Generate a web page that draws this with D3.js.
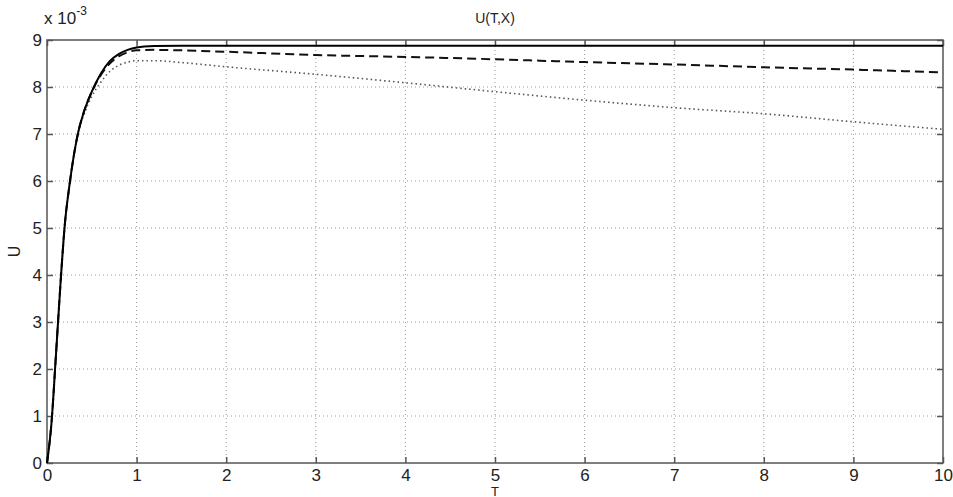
<!DOCTYPE html>
<html><head><meta charset="utf-8">
<script src="https://cdn.jsdelivr.net/npm/d3@7"></script>
<style>body{margin:0;background:#fff}svg{display:block}text{font-family:"Liberation Sans",Arial,sans-serif}</style>
</head><body><div id="c"></div>
<script>
const tValues = [0,0.05,0.1,0.15,0.2,0.25,0.3,0.35,0.4,0.5,0.6,0.7,0.8,0.9,1.0,1.2,1.5,2,3,4,5,6,7,8,9,10];
const solidU  = [0,0.85,2.3,3.8,5.1,5.9,6.55,7.05,7.4,7.9,8.28,8.55,8.7,8.79,8.84,8.87,8.88,8.88,8.88,8.88,8.88,8.88,8.88,8.88,8.88,8.88];
const dashedU = [0,0.85,2.3,3.8,5.1,5.9,6.55,7.05,7.4,7.9,8.25,8.5,8.65,8.74,8.78,8.79,8.78,8.75,8.68,8.64,8.59,8.53,8.48,8.42,8.37,8.31];
const dottedU = [0,0.85,2.3,3.8,5.1,5.9,6.55,7.05,7.35,7.8,8.1,8.33,8.46,8.53,8.56,8.56,8.52,8.43,8.27,8.09,7.9,7.72,7.56,7.43,7.26,7.1];
const xTicks = [0,1,2,3,4,5,6,7,8,9,10];
const yTicks = [0,1,2,3,4,5,6,7,8,9];

const W=953,H=497, m={l:47,r:10,t:40,b:34};
const svg=d3.select("#c").append("svg").attr("width",W).attr("height",H);
const x=d3.scaleLinear().domain([0,10]).range([m.l,W-m.r]);
const y=d3.scaleLinear().domain([0,9]).range([H-m.b,m.t]);
const axisCol="#555";

// grid
const g=svg.append("g");
g.selectAll(".gx").data(xTicks.slice(1,-1)).join("line")
 .attr("x1",d=>x(d)).attr("x2",d=>x(d)).attr("y1",y(0)).attr("y2",y(9))
 .attr("stroke","#999").attr("stroke-width",1).attr("stroke-dasharray","1,3");
g.selectAll(".gy").data(yTicks.slice(1,-1)).join("line")
 .attr("y1",d=>y(d)).attr("y2",d=>y(d)).attr("x1",x(0)).attr("x2",x(10))
 .attr("stroke","#999").attr("stroke-width",1).attr("stroke-dasharray","1,3");

// axes
const ax=d3.axisBottom(x).tickValues(xTicks).tickSize(-6).tickPadding(6).tickFormat(d3.format("d"));
const ay=d3.axisLeft(y).tickValues(yTicks).tickSize(-6).tickPadding(5).tickFormat(d3.format("d"));
const axt=d3.axisTop(x).tickValues(xTicks).tickSize(-6).tickFormat("");
const ayr=d3.axisRight(y).tickValues(yTicks).tickSize(-6).tickFormat("");
function style(sel){sel.select(".domain").attr("stroke",axisCol).attr("stroke-width",1.5);sel.selectAll(".tick line").attr("stroke",axisCol).attr("stroke-width",1.5);sel.selectAll("text").attr("font-size",17).attr("fill","#222");}
svg.append("g").attr("transform",`translate(0,${y(0)})`).call(ax).call(style);
svg.append("g").attr("transform",`translate(${x(0)},0)`).call(ay).call(style);
svg.append("g").attr("transform",`translate(0,${y(9)})`).call(axt).call(style);
svg.append("g").attr("transform",`translate(${x(10)},0)`).call(ayr).call(style);
svg.selectAll(".domain").attr("d",null);
svg.append("rect").attr("x",x(0)).attr("y",y(9)).attr("width",x(10)-x(0)).attr("height",y(0)-y(9))
 .attr("fill","none").attr("stroke",axisCol).attr("stroke-width",1.5);

// lines
const line=arr=>d3.line().x((d,i)=>x(tValues[i])).y(d=>y(d)).curve(d3.curveMonotoneX)(arr);
svg.append("path").attr("d",line(dottedU)).attr("fill","none").attr("stroke","#555").attr("stroke-width",1.6).attr("stroke-dasharray","1.5,3");
svg.append("path").attr("d",line(dashedU)).attr("fill","none").attr("stroke","#111").attr("stroke-width",2).attr("stroke-dasharray","9,5");
svg.append("path").attr("d",line(solidU)).attr("fill","none").attr("stroke","#000").attr("stroke-width",2);

// labels
svg.append("text").attr("x",(x(0)+x(10))/2).attr("y",23).attr("text-anchor","middle").attr("font-size",14).attr("fill","#222").text("U(T,X)");
const e=svg.append("text").attr("x",x(0)-3).attr("y",24).attr("font-size",17).attr("fill","#222");
e.append("tspan").text("x 10");
e.append("tspan").attr("font-size",12).attr("dy",-9).text("-3");
svg.append("text").attr("x",(x(0)+x(10))/2).attr("y",H-1).attr("text-anchor","middle").attr("font-size",13).attr("fill","#222").text("T");
svg.append("text").attr("transform",`translate(20,${(y(0)+y(9))/2}) rotate(-90)`).attr("text-anchor","middle").attr("font-size",16).attr("fill","#222").text("U");
</script></body></html>
